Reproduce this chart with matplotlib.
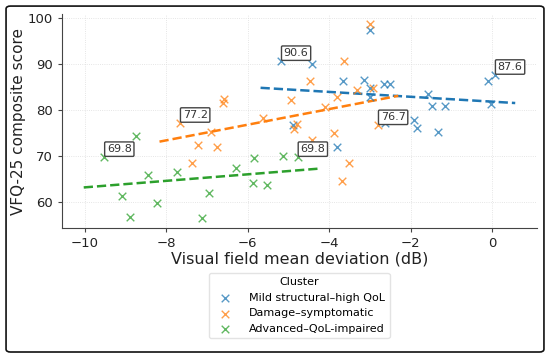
import numpy as np
import matplotlib
matplotlib.use("Agg")
import matplotlib.pyplot as plt
from matplotlib.patches import FancyBboxPatch

clusters = ["Mild structural–high QoL", "Damage–symptomatic", "Advanced–QoL-impaired"]
colors = ["#1f77b4", "#ff7f0e", "#2ca02c"]

mild_x = [-5.18, -4.42, -2.99, -3.66, -3.15, -2.99, -2.99, -2.65, -2.50, -1.56, -1.47,
          -1.15, -1.92, -1.83, -1.33, -0.10, 0.07, -0.02, -2.62, -3.81, -4.88]
mild_y = [90.6, 89.9, 97.4, 86.2, 86.4, 84.7, 82.9, 85.7, 85.6, 83.4, 80.9,
          80.9, 77.9, 76.1, 75.3, 86.2, 87.6, 81.3, 77.1, 71.9, 76.8]

dmg_x = [-2.99, -3.62, -4.46, -3.32, -2.92, -3.81, -4.10, -2.80, -3.87, -4.42, -3.50,
         -3.67, -6.57, -6.60, -4.93, -5.63, -7.66, -4.79, -4.86, -6.90, -7.22, -6.76, -7.37]
dmg_y = [98.7, 90.7, 86.2, 84.3, 84.8, 82.7, 80.7, 76.7, 75.1, 73.4, 68.6,
         64.7, 82.3, 81.5, 82.1, 78.2, 77.2, 77.0, 75.9, 75.3, 72.5, 72.0, 68.4]

adv_x = [-8.74, -9.52, -8.45, -7.74, -9.09, -8.89, -8.21, -6.94, -7.11, -6.28,
         -5.84, -5.14, -4.77, -5.86, -5.51]
adv_y = [74.4, 69.8, 66.0, 66.5, 61.3, 56.7, 59.8, 62.1, 56.5, 67.5,
         69.5, 70.1, 69.8, 64.1, 63.8]

xs = [mild_x, dmg_x, adv_x]
ys = [mild_y, dmg_y, adv_y]

fig = plt.figure(figsize=(5.5, 3.57), dpi=100)
ax = fig.add_axes([0.113, 0.361, 0.863, 0.6])

for name, c, x, y in zip(clusters, colors, xs, ys):
    x = np.array(x); y = np.array(y)
    ax.scatter(x, y, marker="x", s=30, color=c, alpha=0.75, linewidths=1.0, label=name, zorder=3)
    k, b = np.polyfit(x, y, 1)
    gx = np.array([x.min() - 0.5, x.max() + 0.5])
    ax.plot(gx, k * gx + b, "--", color=c, lw=1.8, zorder=2)
    for i in (int(np.argmin(x)), int(np.argmax(x))):
        ax.annotate(f"{y[i]:.1f}", (x[i], y[i]), xytext=(2, 3.5), textcoords="offset points",
                    fontsize=8, color="#333333", zorder=5,
                    bbox=dict(boxstyle="round,pad=0.2,rounding_size=0.1", fc="white",
                              ec="#444444", lw=1.0))

ax.grid(True, color="#dddddd", lw=0.6, ls=":")
ax.set_axisbelow(True)
for s in ("top", "right"):
    ax.spines[s].set_visible(False)
for s in ("left", "bottom"):
    ax.spines[s].set_color("#444444")
ax.tick_params(labelsize=9.5, color="#444444", labelcolor="#222222", length=3)
ax.set_yticks([60, 70, 80, 90, 100])
ax.set_xlabel("Visual field mean deviation (dB)", fontsize=11.5, color="#222222", labelpad=1)
ax.set_ylabel("VFQ-25 composite score", fontsize=11, color="#222222", labelpad=1)

leg = ax.legend(title="Cluster", loc="upper center", bbox_to_anchor=(0.5, -0.183),
                fontsize=8, title_fontsize=8, frameon=True, handletextpad=1.2)
leg.get_frame().set_edgecolor("#dddddd")

fig.patches.append(FancyBboxPatch((0.011, 0.014), 0.978, 0.969, transform=fig.transFigure,
                                  boxstyle="round,pad=0,rounding_size=0.008",
                                  fill=False, ec="#111111", lw=1.2))

fig.savefig("out.png", dpi=100)
